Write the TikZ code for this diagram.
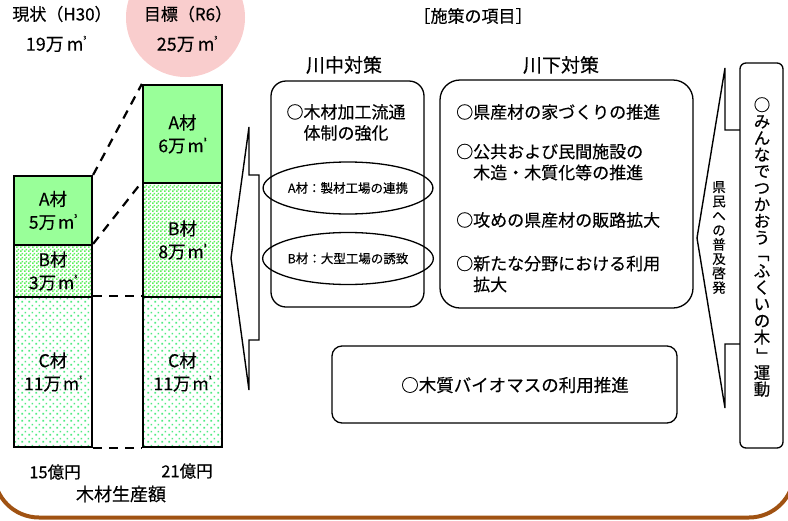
\documentclass[tikz,border=0pt]{standalone}
\usepackage{fontspec}
\setmainfont{Noto Sans CJK JP}[FakeBold=0.35]
\usetikzlibrary{shapes.geometric,patterns.meta}
\definecolor{agreen}{RGB}{153,255,153}
\definecolor{dotgreen}{RGB}{90,240,90}
\definecolor{cdotgreen}{RGB}{80,235,130}
\definecolor{pinkc}{RGB}{249,205,205}
\definecolor{framebrown}{RGB}{160,82,18}
\newcommand\mthree{m\raisebox{0.62em}{\fontsize{5}{5}\selectfont 3}}
\tikzdeclarepattern{
  name=densedots, type=uncolored,
  bottom left={(0pt,0pt)}, top right={(4pt,4pt)}, tile size={(4pt,4pt)},
  code={\fill (0pt,0pt) rectangle (1.9pt,1.9pt); \fill (2pt,2pt) rectangle (3.9pt,3.9pt);}
}
\tikzdeclarepattern{
  name=sparsedots, type=uncolored,
  bottom left={(0pt,0pt)}, top right={(7pt,7pt)}, tile size={(7pt,7pt)},
  code={\fill (0.5pt,0.5pt) rectangle (2.4pt,2.4pt); \fill (4pt,4pt) rectangle (5.9pt,5.9pt);}
}
\begin{document}
\begin{tikzpicture}[x=1pt,y=-1pt,
  txt/.style={inner sep=0pt, font=\fontsize{17}{21}\selectfont},
  title/.style={inner sep=0pt, font=\fontsize{19}{21}\selectfont},
  bar/.style={draw, line width=2.2pt, inner sep=0pt, align=center, font=\fontsize{17.5}{23}\selectfont},
  abar/.style={bar, fill=agreen},
  bbar/.style={bar, pattern=densedots, pattern color=dotgreen},
  cbar/.style={bar, pattern=sparsedots, pattern color=cdotgreen},
  dashconn/.style={line width=2.2pt, dash pattern=on 9pt off 7pt},
  rbox/.style={draw, line width=1.3pt, fill=white},
  oval/.style={draw, ellipse, line width=1.3pt, inner sep=0pt, minimum width=138pt, minimum height=52pt, font=\fontsize{12.5}{14}\selectfont},
  callout/.style={draw, line width=1.4pt, fill=white, line join=miter},
  vtxt/.style={inner sep=0pt, align=center, font=\fontsize{16.5}{16.6}\selectfont},
  vsmall/.style={inner sep=0pt, align=center, font=\fontsize{13.5}{14.4}\selectfont},
  small/.style={inner sep=0pt, font=\fontsize{16.5}{18}\selectfont}
]
\useasboundingbox (0,0) rectangle (788,520);
\clip (0,0) rectangle (788,520);

% frame
\draw[framebrown, line width=4pt, rounded corners=45pt] (-6,300) -- (-6,517.5) -- (794,517.5) -- (794,300);

% pink circle
\fill[pinkc] (185.5,17.5) circle (59.5pt);

% headings
\node[txt] (h1) at (62,14) {現状（H30）};
\node[txt, font=\fontsize{18}{21}\selectfont] (v1) at (56,44) {19万\hspace{3pt}\mthree};
\node[txt] (h2) at (188,14) {目標（R6）};
\node[txt, font=\fontsize{18}{21}\selectfont] (v2) at (187,44) {25万\hspace{3pt}\mthree};
\node[txt] (hd) at (473,16) {［施策の項目］};

% bars
\node[abar, minimum width=78pt, minimum height=69pt] (LA) at (53,210.5) {A材\\5万\hspace{2pt}\mthree};
\node[bbar, minimum width=78pt, minimum height=52pt] (LB) at (53,271) {B材\\3万\hspace{2pt}\mthree};
\node[cbar, minimum width=78pt, minimum height=150pt] (LC) at (53,372) {C材\\11万\hspace{2pt}\mthree};
\node[abar, minimum width=79pt, minimum height=98pt] (RA) at (182.5,134) {A材\\6万\hspace{2pt}\mthree};
\node[bbar, minimum width=79pt, minimum height=114pt] (RB) at (182.5,240) {B材\\8万\hspace{2pt}\mthree};
\node[cbar, minimum width=79pt, minimum height=150pt] (RC) at (182.5,372) {C材\\11万\hspace{2pt}\mthree};

\draw[dashconn] (LA.north east) -- (RA.north west);
\draw[dashconn] (LB.north east) -- (RB.north west);
\draw[dashconn] (LC.north east) -- (RC.north west);
\draw[dashconn] (LC.south east) -- (RC.south west);

\node[small] (y1) at (55,472) {15億円};
\node[small] (y2) at (187,471) {21億円};
\node[small, font=\fontsize{18}{20}\selectfont] (yl) at (121,494) {木材生産額};

% left callout arrow
\draw[callout] (249,127) -- (231,258) -- (249,390) -- (249,340) -- (259,340) -- (259,175) -- (249,175) -- cycle;

% 川中
\node[title] (tm) at (344,65) {川中対策};
\node[rbox, rounded corners=15pt, minimum width=153pt, minimum height=226pt] (mb) at (347.5,194) {};
\node[txt, align=center] (mt) at (346,122.5) {○木材加工流通\\体制の強化};
\node[oval] (e1) at (348,188) {A材：製材工場の連携};
\node[oval] (e2) at (348,258.5) {B材：大型工場の誘致};

% 川下
\node[title] (td) at (561,65) {川下対策};
\node[rbox, rounded corners=20pt, minimum width=253pt, minimum height=228pt] (db) at (566.5,194) {};
\node[txt, anchor=west] (d1) at (456,112) {○県産材の家づくりの推進};
\node[txt, anchor=west, align=left] (d2) at (456,162) {○公共および民間施設の\\\hspace*{1em}木造・木質化等の推進};
\node[txt, anchor=west] (d3) at (456,220) {○攻めの県産材の販路拡大};
\node[txt, anchor=west, align=left] (d4) at (456,274) {○新たな分野における利用\\\hspace*{1em}拡大};

% biomass
\node[rbox, rounded corners=10pt, minimum width=345pt, minimum height=77pt] (bb) at (504.5,384.5) {};
\node[txt, font=\fontsize{17.5}{20}\selectfont] (bt) at (515,385) {○木質バイオマスの利用推進};

% right callout arrow and box
\draw[callout] (725,68) -- (697,238) -- (725,408) -- (725,344) -- (741,344) -- (741,130) -- (725,130) -- cycle;
\node[vsmall] (vs) at (719,237.5) {県\\民\\へ\\の\\普\\及\\啓\\発};
\node[rbox, rounded corners=6pt, minimum width=43pt, minimum height=385pt] (rb) at (761.5,255.5) {};
\node[vtxt] (vt) at (762,247) {○\\み\\ん\\な\\で\\つ\\か\\お\\う\\\rotatebox[origin=c]{-90}{「}\\ふ\\く\\い\\の\\木\\\rotatebox[origin=c]{-90}{」}\\運\\動};
\end{tikzpicture}
\end{document}
